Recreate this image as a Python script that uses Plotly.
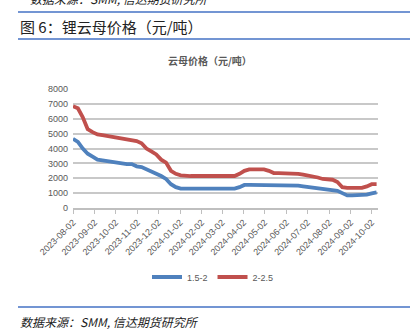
import pandas as pd
import plotly.graph_objects as go

dates = pd.date_range("2023-08-02", periods=63, freq="7D")

s_15_2 = [4650, 4450, 4000, 3650, 3450, 3250, 3200, 3150, 3100, 3050,
          2950, 2950, 2950, 2800, 2750, 2600, 2450, 2350, 2150, 1950,
          1600, 1400, 1300, 1300, 1300, 1300, 1300, 1300, 1300, 1300,
          1300, 1300, 1300, 1300, 1400, 1550, 1550, 1550, 1550, 1550,
          1550, 1550, 1550, 1550, 1550, 1550, 1500, 1450, 1400, 1350,
          1300, 1250, 1250, 1200, 1150, 1000, 850, 850, 850, 850,
          900, 980, 1050]

s_2_25 = [6850, 6700, 6100, 5300, 5100, 4950, 4900, 4850, 4800, 4750,
          4650, 4600, 4550, 4500, 4350, 4000, 3800, 3600, 3250, 3050,
          2500, 2300, 2200, 2150, 2150, 2150, 2150, 2150, 2150, 2150,
          2150, 2150, 2150, 2150, 2300, 2500, 2600, 2600, 2600, 2600,
          2500, 2350, 2350, 2350, 2350, 2350, 2300, 2250, 2200, 2150,
          2050, 1950, 1900, 1900, 1750, 1400, 1350, 1350, 1350, 1350,
          1450, 1600, 1600]

series_names = ["1.5-2", "2-2.5"]
series_colors = ["#4F81BD", "#C0504D"]

fig = go.Figure()
for name, vals, col in zip(series_names, [s_15_2, s_2_25], series_colors):
    fig.add_trace(go.Scatter(x=dates, y=vals, mode="lines", name=name,
                             line=dict(color=col, width=3.8)))

H = 119.0
W = 305.0
def py(y):
    return (208 - y) / H
def px(x):
    return (x - 73) / W

fig.update_layout(
    width=410, height=329,
    margin=dict(l=73, r=32, t=89, b=121),
    paper_bgcolor="white", plot_bgcolor="white",
    font=dict(family="Liberation Sans, Arial, sans-serif", color="#595959", size=9),
    showlegend=True,
    legend=dict(orientation="h", x=px(213), xanchor="center", y=py(277), yanchor="middle",
                font=dict(size=9, color="#595959"), itemwidth=30, bgcolor="rgba(0,0,0,0)"),
    xaxis=dict(
        range=["2023-08-02", "2024-10-11"],
        tick0="2023-08-02", dtick="M1", tickformat="%Y-%m-%d",
        tickangle=-45, ticks="outside", ticklen=4, tickcolor="#BFBFBF",
        showgrid=False, showline=True, linecolor="#BFBFBF", linewidth=1.5,
        tickfont=dict(size=9, color="#595959"), zeroline=False,
    ),
    yaxis=dict(
        range=[0, 8000], dtick=1000, showgrid=True, gridcolor="#C8C8C8", gridwidth=1.5,
        zeroline=False, showline=False, ticks="", tickfont=dict(size=9, color="#595959"),
        ticklabelstandoff=4,
    ),
)

cjk = "Noto Sans CJK SC"
for yy in (12, 39, 307):
    fig.add_shape(type="line", xref="paper", yref="paper", x0=px(18), x1=px(410),
                  y0=py(yy), y1=py(yy), line=dict(color="#4472C4", width=1.5))

fig.add_annotation(text="数据来源：SMM, 信达期货研究所", xref="paper", yref="paper",
                   x=px(28), y=py(-2), xanchor="left", yanchor="middle", showarrow=False,
                   font=dict(family=cjk, size=12, color="#222222", style="italic"))
fig.add_annotation(text="图 6：锂云母价格（元/吨）", xref="paper", yref="paper",
                   x=px(18), y=py(26), xanchor="left", yanchor="middle", showarrow=False,
                   font=dict(family=cjk, size=15, color="#222222"))
fig.add_annotation(text="<b>云母价格（元/吨）</b>", xref="paper", yref="paper",
                   x=px(210), y=py(61), xanchor="center", yanchor="middle", showarrow=False,
                   font=dict(family=cjk, size=10, color="#595959"))
fig.add_annotation(text="数据来源：SMM, 信达期货研究所", xref="paper", yref="paper",
                   x=px(18), y=py(321), xanchor="left", yanchor="middle", showarrow=False,
                   font=dict(family=cjk, size=12, color="#222222", style="italic"))

fig.write_html("out.html")
